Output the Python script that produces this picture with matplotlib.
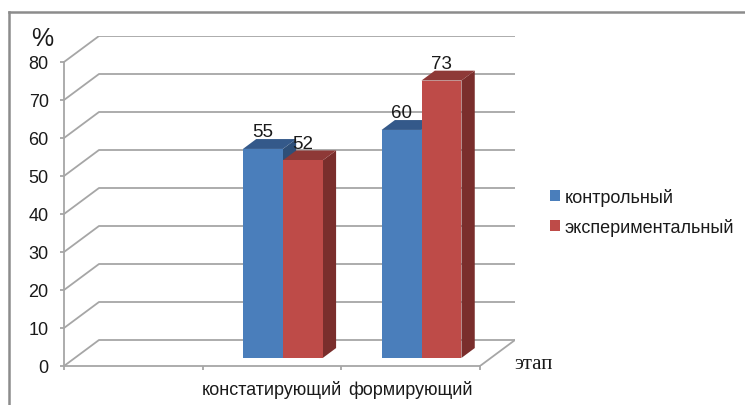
import matplotlib
matplotlib.use("Agg")
import matplotlib.pyplot as plt
from matplotlib.patches import Polygon, Rectangle, Patch
from matplotlib.lines import Line2D

plt.rcParams['font.family'] = ['Liberation Sans', 'DejaVu Sans']

# --- data -------------------------------------------------------------
stages = ["", "констатирующий", "формирующий"]
series_names = ["контрольный", "экспериментальный"]
control = [None, 55, 60]
experimental = [None, 52, 73]
y_ticks = list(range(0, 81, 10))

# --- styling ----------------------------------------------------------
face = ["#4A7EBB", "#BE4B48"]
top = ["#34598A", "#8E3937"]
side = ["#2E4F78", "#7A2E2C"]
grid_col = "#A6A6A6"
text_col = "#1A1A1A"

W, H = 745, 406
fig = plt.figure(figsize=(W / 100, H / 100), dpi=100)
ax = fig.add_axes([64 / W, (H - 367) / H, (515 - 64) / W, (367 - 37) / H])

n_cat = len(stages)
ymax = y_ticks[-1]
DX = 35 / (416 / n_cat)     # depth shift along category axis
DY = 26 / 3.8               # depth shift along value axis
ax.set_xlim(0, n_cat + DX)
ax.set_ylim(0, ymax + DY)

# back wall / side wall gridlines
for v in y_ticks:
    ax.add_line(Line2D([0, DX, n_cat + DX], [v, v + DY, v + DY],
                       color=grid_col, lw=1.3, zorder=1))
# floor right edge
ax.add_line(Line2D([n_cat, n_cat + DX], [0, DY], color=grid_col, lw=1.3, zorder=1))

# --- 3D columns ---------------------------------------------------------
bw = 0.288          # width of one column (category units)
z0, z1 = 0.31, 0.69  # front / back depth of columns (fraction of depth)
d = z1 - z0
series = [control, experimental]
for i in range(n_cat):
    for j, vals in enumerate(series):
        v = vals[i]
        if v is None:
            continue
        x0 = i + 0.5 - bw + j * bw + z0 * DX
        yb = z0 * DY
        ax.add_patch(Polygon([(x0 + bw, yb), (x0 + bw + d * DX, yb + d * DY),
                              (x0 + bw + d * DX, yb + v + d * DY), (x0 + bw, yb + v)],
                             closed=True, fc=side[j], ec='none', zorder=3))
        ax.add_patch(Polygon([(x0, yb + v), (x0 + bw, yb + v),
                              (x0 + bw + d * DX, yb + v + d * DY), (x0 + d * DX, yb + v + d * DY)],
                             closed=True, fc=top[j], ec='none', zorder=3))
        ax.add_patch(Rectangle((x0, yb), bw, v, fc=face[j], ec='none', zorder=3))
        ax.text(x0 + bw / 2, yb + v + 17 / 3.8, str(v), ha='center', va='center',
                fontsize=13.5, color=text_col, zorder=5)

# --- axes ---------------------------------------------------------------
for s in ['top', 'right']:
    ax.spines[s].set_visible(False)
ax.spines['left'].set_bounds(0, ymax)
ax.spines['bottom'].set_bounds(0, n_cat)
for s in ['left', 'bottom']:
    ax.spines[s].set_color(grid_col)
    ax.spines[s].set_linewidth(1.3)

ax.set_yticks(y_ticks)
ax.set_yticklabels([str(t) for t in y_ticks])
ax.tick_params(axis='y', direction='out', length=3, width=1.3, color=grid_col,
               labelsize=13, labelcolor=text_col, pad=8)

ax.set_xticks(range(n_cat + 1))
ax.set_xticklabels([])
ax.set_xticks([i + 0.5 for i in range(n_cat)], minor=True)
ax.set_xticklabels(stages, minor=True)
ax.tick_params(axis='x', which='major', direction='out', length=3, width=1.3, color=grid_col)
ax.tick_params(axis='x', which='minor', length=0, labelsize=13, labelcolor=text_col, pad=10)

# axis titles
fig.text(42 / W, 1 - 39 / H, "%", fontsize=18, ha='center', va='center', color=text_col)
fig.text(514 / W, 1 - 365 / H, "этап", fontsize=15, ha='left', va='center',
         color=text_col, family=['Liberation Serif', 'DejaVu Serif'])

# legend
handles = [Patch(fc=face[0], ec='none'), Patch(fc=face[1], ec='none')]
fig.legend(handles, series_names, loc='upper left', bbox_to_anchor=(550 / W, 1 - 189 / H),
           frameon=False, handlelength=0.55, handleheight=0.55, handletextpad=0.25,
           labelspacing=0.65, fontsize=13, borderpad=0, borderaxespad=0,
           labelcolor=text_col)

# outer frame
frame_col = "#8C8C8C"
fig.add_artist(Line2D([9 / W, 1], [1 - 13 / H, 1 - 13 / H], transform=fig.transFigure,
                      color=frame_col, lw=1.8))
fig.add_artist(Line2D([9 / W, 9 / W], [0, 1 - 13 / H], transform=fig.transFigure,
                      color=frame_col, lw=1.8))

fig.savefig("out.png", dpi=100)
